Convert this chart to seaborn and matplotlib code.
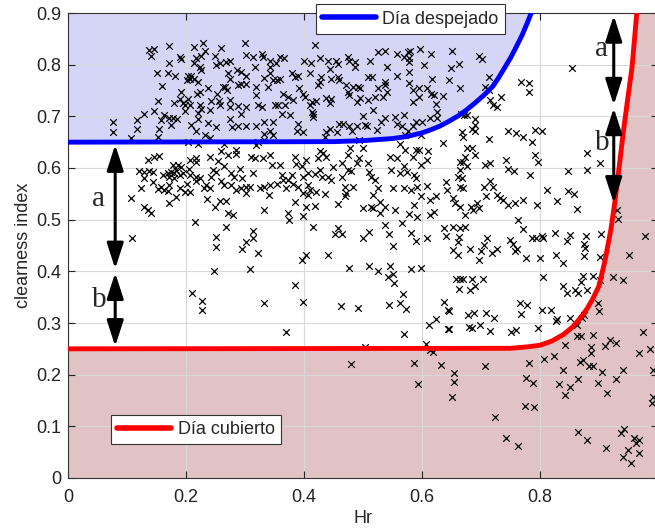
import numpy as np
import pandas as pd
import matplotlib
matplotlib.use("Agg")
import matplotlib.pyplot as plt
import seaborn as sns
from matplotlib.lines import Line2D

# ---- threshold curves (Hr, clearness index) ----
clear_hr = [0.0, 0.45, 0.50, 0.55, 0.575, 0.60, 0.615, 0.63, 0.645, 0.66, 0.675, 0.69, 0.705,
            0.72, 0.73, 0.74, 0.75, 0.76, 0.77, 0.78, 0.79]
clear_kt = [0.650, 0.651, 0.653, 0.657, 0.661, 0.668, 0.674, 0.681, 0.690, 0.700, 0.712, 0.726, 0.741,
            0.758, 0.775, 0.794, 0.813, 0.835, 0.858, 0.885, 0.915]
cloudy_hr = [0.0, 0.75, 0.78, 0.80, 0.82, 0.84, 0.855, 0.87, 0.88, 0.89, 0.90, 0.91, 0.92, 0.927,
             0.935, 0.941, 0.95, 0.956, 0.964, 0.97]
cloudy_kt = [0.250, 0.251, 0.254, 0.257, 0.265, 0.278, 0.292, 0.312, 0.328, 0.348, 0.372, 0.420, 0.480,
             0.535, 0.610, 0.668, 0.745, 0.795, 0.900, 0.970]

# ---- daily observations (Hr, clearness index) ----
obs_upper_left = [
    (0.138, 0.828), (0.145, 0.830), (0.141, 0.817), (0.172, 0.837), (0.213, 0.834), (0.229, 0.841),
    (0.233, 0.826), (0.225, 0.817), (0.259, 0.833), (0.300, 0.841), (0.302, 0.819), (0.249, 0.817),
    (0.190, 0.815), (0.192, 0.810), (0.172, 0.804), (0.217, 0.812), (0.213, 0.804), (0.223, 0.795),
    (0.226, 0.789), (0.251, 0.799), (0.257, 0.804), (0.268, 0.805), (0.275, 0.808), (0.287, 0.789),
    (0.293, 0.786), (0.302, 0.779), (0.271, 0.783), (0.274, 0.773), (0.150, 0.784), (0.169, 0.783),
    (0.182, 0.779), (0.203, 0.779), (0.208, 0.779), (0.206, 0.773), (0.214, 0.773), (0.220, 0.766),
    (0.201, 0.770), (0.160, 0.758), (0.237, 0.754), (0.223, 0.747), (0.218, 0.744), (0.191, 0.747),
    (0.262, 0.757), (0.266, 0.757), (0.269, 0.750), (0.252, 0.744), (0.288, 0.760), (0.293, 0.763),
    (0.302, 0.763), (0.189, 0.734), (0.203, 0.734), (0.180, 0.725), (0.195, 0.725), (0.199, 0.721),
    (0.207, 0.721), (0.152, 0.729), (0.223, 0.721), (0.226, 0.715), (0.240, 0.712), (0.243, 0.729),
    (0.256, 0.729), (0.257, 0.721), (0.275, 0.731), (0.275, 0.718), (0.288, 0.720), (0.302, 0.718),
    (0.293, 0.705), (0.146, 0.710), (0.129, 0.705), (0.163, 0.702), (0.157, 0.692), (0.172, 0.696),
    (0.178, 0.697), (0.184, 0.694), (0.199, 0.710), (0.221, 0.707), (0.221, 0.694), (0.237, 0.687),
    (0.251, 0.679), (0.274, 0.694), (0.278, 0.679), (0.288, 0.681), (0.302, 0.682), (0.077, 0.689),
    (0.077, 0.670), (0.117, 0.692), (0.117, 0.675), (0.155, 0.676), (0.174, 0.683), (0.209, 0.683),
    (0.217, 0.671), (0.233, 0.663), (0.240, 0.658), (0.265, 0.647), (0.203, 0.650), (0.221, 0.647),
    (0.152, 0.660), (0.107, 0.658),
]
obs_upper_mid = [
    (0.418, 0.839), (0.314, 0.814), (0.328, 0.821), (0.331, 0.814), (0.342, 0.808), (0.343, 0.795),
    (0.317, 0.795), (0.360, 0.814), (0.366, 0.812), (0.352, 0.804), (0.400, 0.808), (0.412, 0.804),
    (0.427, 0.812), (0.441, 0.808), (0.454, 0.808), (0.458, 0.802), (0.475, 0.815), (0.477, 0.808),
    (0.486, 0.805), (0.486, 0.795), (0.512, 0.808), (0.525, 0.825), (0.537, 0.826), (0.541, 0.795),
    (0.557, 0.821), (0.444, 0.791), (0.379, 0.783), (0.384, 0.776), (0.390, 0.779), (0.410, 0.783),
    (0.429, 0.776), (0.446, 0.773), (0.458, 0.776), (0.460, 0.770), (0.472, 0.760), (0.508, 0.776),
    (0.515, 0.776), (0.492, 0.757), (0.495, 0.754), (0.483, 0.757), (0.526, 0.754), (0.537, 0.760),
    (0.537, 0.766), (0.557, 0.779), (0.342, 0.783), (0.333, 0.774), (0.354, 0.770), (0.360, 0.772),
    (0.348, 0.770), (0.319, 0.757), (0.339, 0.757), (0.427, 0.766), (0.424, 0.760), (0.364, 0.744),
    (0.373, 0.738), (0.381, 0.731), (0.392, 0.754), (0.398, 0.744), (0.401, 0.738), (0.413, 0.727),
    (0.421, 0.729), (0.438, 0.736), (0.446, 0.733), (0.444, 0.725), (0.475, 0.747), (0.477, 0.741),
    (0.489, 0.727), (0.495, 0.736), (0.508, 0.731), (0.520, 0.738), (0.534, 0.738), (0.540, 0.747),
    (0.517, 0.712), (0.500, 0.701), (0.503, 0.684), (0.531, 0.689), (0.537, 0.696), (0.554, 0.699),
    (0.557, 0.686), (0.319, 0.741), (0.322, 0.721), (0.328, 0.718), (0.351, 0.721), (0.356, 0.721),
    (0.368, 0.721), (0.362, 0.705), (0.376, 0.702), (0.390, 0.686), (0.410, 0.721), (0.413, 0.708),
    (0.415, 0.705), (0.415, 0.699), (0.333, 0.690), (0.348, 0.689), (0.318, 0.682), (0.342, 0.672),
    (0.333, 0.666), (0.348, 0.663), (0.388, 0.671), (0.398, 0.670), (0.438, 0.670), (0.444, 0.676),
    (0.456, 0.670), (0.460, 0.686), (0.466, 0.686), (0.477, 0.682), (0.489, 0.682), (0.481, 0.671),
    (0.506, 0.682), (0.523, 0.673), (0.494, 0.654), (0.322, 0.650), (0.333, 0.654), (0.435, 0.660),
]
obs_upper_right = [
    (0.596, 0.831), (0.580, 0.826), (0.576, 0.825), (0.570, 0.815), (0.578, 0.812), (0.578, 0.805),
    (0.615, 0.821), (0.604, 0.799), (0.650, 0.826), (0.649, 0.794), (0.662, 0.802), (0.697, 0.817),
    (0.702, 0.810), (0.578, 0.786), (0.617, 0.773), (0.645, 0.771), (0.713, 0.776), (0.578, 0.765),
    (0.584, 0.750), (0.595, 0.754), (0.608, 0.755), (0.615, 0.744), (0.620, 0.741), (0.636, 0.739),
    (0.664, 0.755), (0.595, 0.738), (0.584, 0.728), (0.624, 0.724), (0.626, 0.709), (0.625, 0.697),
    (0.613, 0.697), (0.600, 0.689), (0.589, 0.689), (0.569, 0.702), (0.566, 0.682), (0.584, 0.681),
    (0.576, 0.671), (0.598, 0.664), (0.572, 0.663), (0.563, 0.647), (0.636, 0.649), (0.666, 0.705),
    (0.671, 0.702), (0.676, 0.703), (0.689, 0.694), (0.689, 0.683), (0.685, 0.676), (0.690, 0.671),
    (0.667, 0.670), (0.669, 0.660), (0.714, 0.657), (0.706, 0.757), (0.713, 0.750), (0.715, 0.731),
    (0.721, 0.721), (0.727, 0.719), (0.734, 0.738), (0.767, 0.766), (0.782, 0.765), (0.782, 0.747),
    (0.745, 0.671), (0.760, 0.668), (0.771, 0.660), (0.792, 0.673), (0.803, 0.671), (0.786, 0.650),
]
obs_right_edge = [
    (0.854, 0.794), (0.879, 0.629), (0.879, 0.597), (0.902, 0.610), (0.847, 0.594), (0.847, 0.555),
    (0.858, 0.550), (0.829, 0.537), (0.863, 0.520), (0.930, 0.518), (0.932, 0.501), (0.825, 0.475),
    (0.845, 0.458), (0.851, 0.470), (0.878, 0.468), (0.903, 0.472), (0.875, 0.452), (0.876, 0.445),
    (0.827, 0.431), (0.875, 0.430), (0.901, 0.428), (0.839, 0.417), (0.950, 0.432), (0.978, 0.468),
]
obs_mid_left = [
    (0.135, 0.615), (0.146, 0.622), (0.155, 0.624), (0.121, 0.594), (0.129, 0.593), (0.138, 0.594),
    (0.144, 0.593), (0.129, 0.580), (0.124, 0.561), (0.107, 0.541), (0.144, 0.572), (0.152, 0.559),
    (0.157, 0.563), (0.163, 0.557), (0.172, 0.567), (0.169, 0.555), (0.161, 0.586), (0.169, 0.590),
    (0.175, 0.593), (0.180, 0.590), (0.183, 0.596), (0.186, 0.606), (0.192, 0.601), (0.189, 0.586),
    (0.195, 0.590), (0.172, 0.583), (0.180, 0.581), (0.178, 0.606), (0.206, 0.615), (0.217, 0.619),
    (0.217, 0.612), (0.205, 0.598), (0.207, 0.586), (0.217, 0.583), (0.223, 0.580), (0.217, 0.574),
    (0.201, 0.570), (0.189, 0.561), (0.199, 0.554), (0.207, 0.553), (0.183, 0.543), (0.172, 0.532),
    (0.129, 0.525), (0.135, 0.519), (0.140, 0.512), (0.234, 0.568), (0.231, 0.562), (0.240, 0.561),
    (0.235, 0.540), (0.249, 0.525), (0.257, 0.536), (0.268, 0.536), (0.271, 0.512), (0.280, 0.509),
    (0.240, 0.622), (0.255, 0.614), (0.259, 0.632), (0.271, 0.625), (0.285, 0.635), (0.285, 0.628),
    (0.265, 0.603), (0.246, 0.596), (0.251, 0.593), (0.243, 0.583), (0.260, 0.574), (0.264, 0.567),
    (0.277, 0.590), (0.282, 0.583), (0.291, 0.599), (0.295, 0.580), (0.277, 0.567), (0.285, 0.557),
    (0.293, 0.561), (0.302, 0.564), (0.302, 0.551), (0.216, 0.496), (0.268, 0.486), (0.251, 0.467),
    (0.251, 0.448), (0.302, 0.457), (0.295, 0.443), (0.109, 0.464),
]
obs_mid_center = [
    (0.319, 0.645), (0.311, 0.622), (0.317, 0.619), (0.331, 0.619), (0.343, 0.625), (0.314, 0.590),
    (0.308, 0.564), (0.325, 0.562), (0.333, 0.564), (0.342, 0.567), (0.341, 0.548), (0.354, 0.570),
    (0.362, 0.586), (0.365, 0.577), (0.373, 0.577), (0.379, 0.586), (0.370, 0.561), (0.345, 0.606),
    (0.359, 0.606), (0.384, 0.622), (0.386, 0.607), (0.403, 0.615), (0.397, 0.604), (0.398, 0.583),
    (0.406, 0.590), (0.418, 0.588), (0.427, 0.596), (0.430, 0.583), (0.441, 0.583), (0.446, 0.577),
    (0.449, 0.601), (0.464, 0.609), (0.475, 0.625), (0.478, 0.639), (0.500, 0.638), (0.489, 0.609),
    (0.494, 0.619), (0.508, 0.609), (0.475, 0.596), (0.465, 0.583), (0.480, 0.594), (0.427, 0.632),
    (0.433, 0.629), (0.424, 0.619), (0.438, 0.622), (0.381, 0.570), (0.389, 0.564), (0.407, 0.567),
    (0.410, 0.557), (0.398, 0.551), (0.407, 0.548), (0.421, 0.554), (0.435, 0.549), (0.384, 0.535),
    (0.404, 0.525), (0.418, 0.527), (0.398, 0.508), (0.373, 0.512), (0.375, 0.499), (0.333, 0.519),
    (0.469, 0.564), (0.483, 0.564), (0.469, 0.545), (0.472, 0.551), (0.458, 0.530), (0.500, 0.522),
    (0.514, 0.525), (0.517, 0.522), (0.528, 0.512), (0.511, 0.593), (0.514, 0.583), (0.520, 0.577),
    (0.526, 0.561), (0.517, 0.548), (0.528, 0.535), (0.537, 0.525), (0.545, 0.622), (0.557, 0.619),
    (0.548, 0.596), (0.551, 0.561), (0.554, 0.519), (0.537, 0.490), (0.314, 0.478), (0.314, 0.465),
    (0.322, 0.435), (0.416, 0.485), (0.458, 0.483), (0.453, 0.472), (0.464, 0.472), (0.500, 0.465),
    (0.511, 0.476), (0.544, 0.472), (0.551, 0.449), (0.403, 0.432), (0.397, 0.422), (0.441, 0.432),
]
obs_mid_right = [
    (0.572, 0.635), (0.589, 0.635), (0.595, 0.635), (0.611, 0.632), (0.584, 0.622), (0.609, 0.615),
    (0.598, 0.606), (0.569, 0.603), (0.563, 0.590), (0.575, 0.593), (0.586, 0.586), (0.589, 0.580),
    (0.569, 0.561), (0.581, 0.557), (0.592, 0.564), (0.598, 0.545), (0.609, 0.566), (0.613, 0.538),
    (0.624, 0.545), (0.586, 0.528), (0.578, 0.510), (0.591, 0.506), (0.613, 0.509), (0.620, 0.515),
    (0.566, 0.493), (0.640, 0.572), (0.642, 0.557), (0.652, 0.541), (0.656, 0.532), (0.664, 0.525),
    (0.673, 0.509), (0.676, 0.638), (0.684, 0.638), (0.690, 0.625), (0.664, 0.612), (0.673, 0.622),
    (0.670, 0.612), (0.676, 0.603), (0.664, 0.596), (0.661, 0.583), (0.667, 0.580), (0.665, 0.564),
    (0.670, 0.561), (0.683, 0.525), (0.686, 0.519), (0.697, 0.522), (0.694, 0.532), (0.705, 0.564),
    (0.708, 0.545), (0.715, 0.575), (0.721, 0.564), (0.727, 0.548), (0.733, 0.541), (0.738, 0.538),
    (0.745, 0.528), (0.758, 0.532), (0.772, 0.538), (0.795, 0.528), (0.707, 0.606), (0.716, 0.609),
    (0.742, 0.615), (0.746, 0.599), (0.756, 0.594), (0.783, 0.586), (0.792, 0.625), (0.796, 0.611),
    (0.812, 0.557), (0.763, 0.499), (0.772, 0.482), (0.637, 0.483), (0.652, 0.486), (0.664, 0.484),
    (0.673, 0.486), (0.640, 0.469), (0.662, 0.467), (0.609, 0.465), (0.581, 0.474), (0.589, 0.459),
    (0.661, 0.457), (0.652, 0.441), (0.661, 0.431), (0.681, 0.444), (0.700, 0.439), (0.705, 0.451),
    (0.710, 0.464), (0.696, 0.422), (0.718, 0.435), (0.727, 0.443), (0.749, 0.461), (0.755, 0.452),
    (0.761, 0.443), (0.758, 0.439), (0.776, 0.425), (0.787, 0.464), (0.794, 0.465), (0.804, 0.469),
    (0.805, 0.464), (0.800, 0.425),
]
obs_low = [
    (0.308, 0.405), (0.477, 0.406), (0.510, 0.410), (0.525, 0.401), (0.545, 0.411), (0.542, 0.390),
    (0.551, 0.394), (0.552, 0.377), (0.582, 0.405), (0.599, 0.407), (0.384, 0.374), (0.333, 0.338),
    (0.399, 0.341), (0.462, 0.332), (0.492, 0.330), (0.544, 0.334), (0.562, 0.338), (0.573, 0.327),
    (0.568, 0.357), (0.369, 0.283), (0.569, 0.279), (0.612, 0.297), (0.624, 0.307), (0.638, 0.341),
    (0.644, 0.325), (0.644, 0.288), (0.503, 0.254), (0.606, 0.259), (0.613, 0.248), (0.618, 0.243),
    (0.480, 0.220), (0.586, 0.222), (0.633, 0.219), (0.211, 0.358), (0.227, 0.342), (0.227, 0.326),
    (0.247, 0.400), (0.593, 0.181), (0.655, 0.204), (0.655, 0.186), (0.650, 0.157),
]
obs_right_low = [
    (0.658, 0.385), (0.664, 0.385), (0.670, 0.386), (0.684, 0.385), (0.703, 0.385), (0.663, 0.365),
    (0.681, 0.364), (0.689, 0.372), (0.646, 0.324), (0.646, 0.288), (0.678, 0.315), (0.688, 0.319),
    (0.679, 0.293), (0.685, 0.290), (0.698, 0.296), (0.709, 0.320), (0.722, 0.309), (0.716, 0.285),
    (0.706, 0.216), (0.724, 0.119), (0.743, 0.077), (0.763, 0.061), (0.751, 0.283), (0.759, 0.286),
    (0.766, 0.338), (0.778, 0.335), (0.768, 0.317), (0.781, 0.222), (0.776, 0.193), (0.788, 0.183),
    (0.774, 0.139), (0.790, 0.137), (0.804, 0.325), (0.819, 0.325), (0.797, 0.290), (0.807, 0.230),
    (0.823, 0.236), (0.805, 0.390), (0.839, 0.372), (0.845, 0.358), (0.859, 0.364), (0.865, 0.358),
    (0.869, 0.380), (0.873, 0.391), (0.889, 0.391), (0.880, 0.364), (0.829, 0.307), (0.827, 0.303),
    (0.851, 0.309), (0.862, 0.296), (0.872, 0.309), (0.874, 0.316), (0.842, 0.257), (0.839, 0.210),
    (0.833, 0.181), (0.851, 0.177), (0.842, 0.160), (0.865, 0.191), (0.862, 0.275), (0.870, 0.275),
    (0.867, 0.225), (0.873, 0.228), (0.883, 0.216), (0.890, 0.216), (0.890, 0.277), (0.898, 0.338),
    (0.900, 0.324), (0.887, 0.254), (0.886, 0.241), (0.898, 0.183), (0.905, 0.206), (0.913, 0.164),
    (0.929, 0.191), (0.911, 0.255), (0.919, 0.267), (0.928, 0.262), (0.902, 0.383), (0.923, 0.390),
    (0.941, 0.383), (0.941, 0.209), (0.975, 0.283), (0.968, 0.241), (0.986, 0.249), (0.991, 0.209),
    (0.989, 0.145), (0.865, 0.090), (0.880, 0.074), (0.912, 0.058), (0.937, 0.087), (0.942, 0.094),
    (0.940, 0.041), (0.949, 0.054), (0.955, 0.030), (0.959, 0.077), (0.963, 0.067), (0.968, 0.074),
    (0.968, 0.048), (0.991, 0.157),
]

x_ticks = [0, 0.2, 0.4, 0.6, 0.8]
x_tick_labels = ["0", "0.2", "0.4", "0.6", "0.8"]
y_ticks = [0, 0.1, 0.2, 0.3, 0.4, 0.5, 0.6, 0.7, 0.8, 0.9]
y_tick_labels = ["0", "0.1", "0.2", "0.3", "0.4", "0.5", "0.6", "0.7", "0.8", "0.9"]
x_lim = (0, 1.0)
y_lim = (0, 0.9)

# ---- style ----
sns.set_style("ticks")
plt.rcParams["font.family"] = ["Liberation Sans", "DejaVu Sans"]

all_obs = (obs_upper_left + obs_upper_mid + obs_upper_right + obs_right_edge + obs_mid_left
           + obs_mid_center + obs_mid_right + obs_low + obs_right_low)
df = pd.DataFrame(all_obs, columns=["Hr", "kt"])
clear_df = pd.DataFrame({"Hr": clear_hr, "kt": clear_kt})
cloudy_df = pd.DataFrame({"Hr": cloudy_hr, "kt": cloudy_kt})

fig = plt.figure(figsize=(6.55, 5.30), dpi=100)
ax = fig.add_axes([68 / 655, 52 / 530, 590 / 655, 465 / 530])

# shaded regions: above the clear-sky curve and below the overcast curve
ytop = y_lim[1]
ax.fill_between(clear_hr, np.minimum(clear_kt, ytop), ytop, color="#d5d5f7", lw=0, zorder=0.2)
fill_x = cloudy_hr + [x_lim[1]]
fill_y = list(np.minimum(cloudy_kt, ytop)) + [ytop]
ax.fill_between(fill_x, 0, fill_y, color="#e2c3c5", lw=0, zorder=0.2)

sns.scatterplot(data=df, x="Hr", y="kt", marker="x", color="black", s=22,
                linewidth=0.9, ax=ax, legend=False, zorder=2)

sns.lineplot(data=clear_df, x="Hr", y="kt", color="#0000ff", lw=3.5, sort=False,
             estimator=None, ax=ax, zorder=3)
sns.lineplot(data=cloudy_df, x="Hr", y="kt", color="#ff0000", lw=3.5, sort=False,
             estimator=None, ax=ax, zorder=3)

ax.set_xlim(*x_lim)
ax.set_ylim(*y_lim)
ax.set_xticks(x_ticks)
ax.set_xticklabels(x_tick_labels)
ax.set_yticks(y_ticks)
ax.set_yticklabels(y_tick_labels)
ax.set_axisbelow(True)
ax.grid(True, color="#d8d8d8", lw=0.8)
ax.tick_params(direction="in", top=True, right=True, length=5, width=0.8,
               labelsize=13, colors="#222222")
ax.tick_params(axis="x", pad=8)
ax.tick_params(axis="y", pad=5)
for sp in ax.spines.values():
    sp.set_color("#333333")
    sp.set_linewidth(0.8)
ax.set_xlabel("Hr", fontsize=13, labelpad=3)
ax.set_ylabel("clearness index", fontsize=13, labelpad=3)

# double-headed interval arrows with labels
arrow_style = dict(arrowstyle="<|-|>,head_length=1.3,head_width=0.42", color="black",
                   lw=2.2, mutation_scale=12, shrinkA=0, shrinkB=0)
arrows = [
    (0.080, 0.645, 0.405), (0.080, 0.397, 0.255),
    (0.925, 0.895, 0.722), (0.925, 0.716, 0.532),
]
for ax_x, y0, y1 in arrows:
    ax.annotate("", xy=(ax_x, y1), xytext=(ax_x, y0), arrowprops=arrow_style, zorder=4)
serif = ["Liberation Serif", "DejaVu Serif"]
for txt, tx, ty in [("a", 0.051, 0.540), ("b", 0.053, 0.344), ("a", 0.905, 0.830), ("b", 0.905, 0.648)]:
    ax.text(tx, ty, txt, fontsize=21, family=serif, ha="center", va="center", zorder=4)

# legends
leg_kw = dict(loc="center", frameon=True, fancybox=False, edgecolor="#333333", framealpha=1,
              fontsize=13, handlelength=3.0, handletextpad=0.35, borderpad=0.35,
              borderaxespad=0)
leg1 = ax.legend(handles=[Line2D([], [], color="#0000ff", lw=4)], labels=["Día despejado"],
                 bbox_to_anchor=(0.58, 0.987), **leg_kw)
leg1.get_frame().set_linewidth(0.8)
leg1.set_zorder(5)
ax.add_artist(leg1)
leg2 = ax.legend(handles=[Line2D([], [], color="#ff0000", lw=4)], labels=["Día cubierto"],
                 bbox_to_anchor=(0.217, 0.104), **leg_kw)
leg2.get_frame().set_linewidth(0.8)
leg2.set_zorder(5)

fig.savefig("out.png", dpi=100)
